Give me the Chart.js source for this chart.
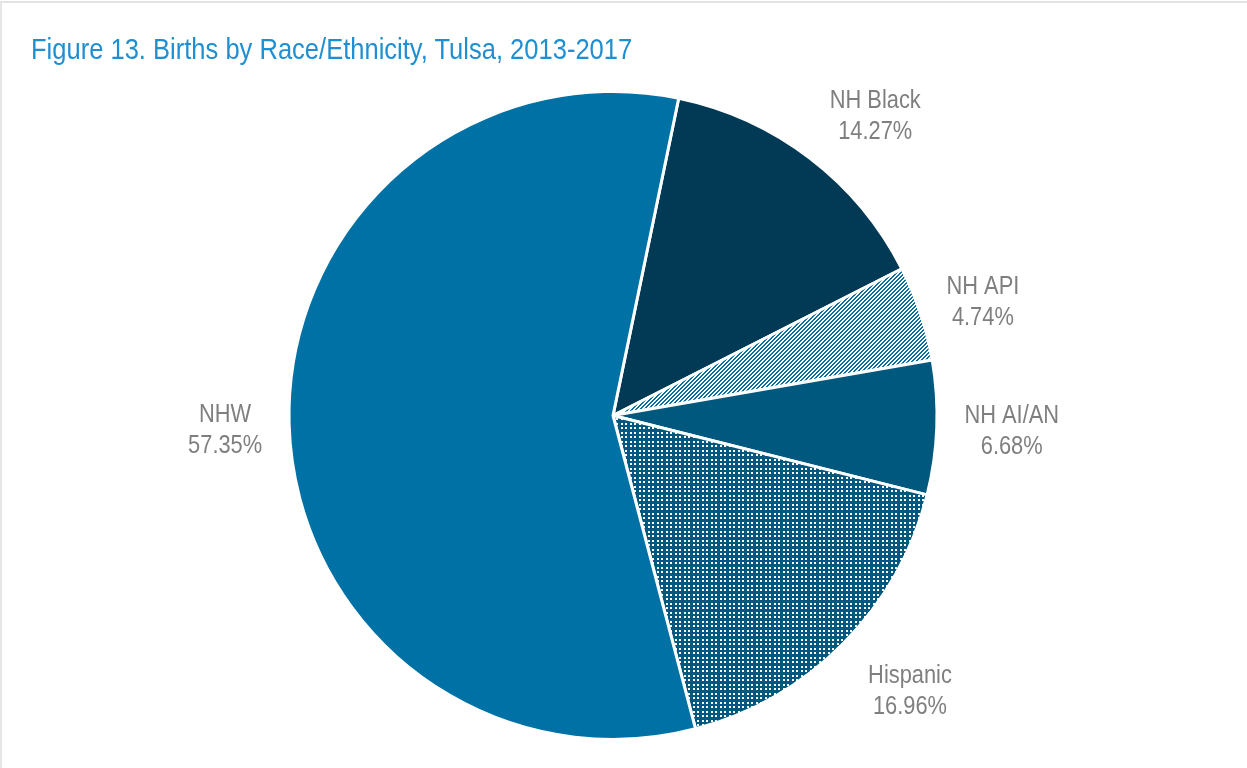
<!DOCTYPE html>
<html>
<head>
<meta charset="utf-8">
<script src="https://cdn.jsdelivr.net/npm/chart.js@4.4.0/dist/chart.umd.min.js"></script>
<style>
  html, body { margin: 0; padding: 0; background: #fff; }
  #wrap { position: absolute; left: 0; top: 1px; width: 1245px; height: 765px;
          border-top: 2px solid #e3e3e3; border-left: 2px solid #e6e6e6; }
  #title { position: absolute; left: 31px; top: 32px; font-family: "Liberation Sans", Arial, sans-serif;
           font-size: 30px; color: #1f8fd2; white-space: nowrap; z-index: 2;
           transform: scaleX(0.851); transform-origin: 0 0; }
  canvas { position: absolute; left: 0; top: 0; }
</style>
</head>
<body>
<div id="wrap"></div>
<div id="title">Figure 13. Births by Race/Ethnicity, Tulsa, 2013-2017</div>
<canvas id="c" width="1247" height="768"></canvas>
<script>
const categories = ["NH Black", "NH API", "NH AI/AN", "Hispanic", "NHW"];
const shares = [14.27, 4.74, 6.68, 16.96, 57.35];
const shareLabels = ["14.27%", "4.74%", "6.68%", "16.96%", "57.35%"];

function stripePattern() {
  const t = document.createElement('canvas'); t.width = 4; t.height = 4;
  const g = t.getContext('2d');
  const img = g.createImageData(4, 4);
  for (let y = 0; y < 4; y++) for (let x = 0; x < 4; x++) {
    const i = (y * 4 + x) * 4;
    const blue = ((x + y) % 4) < 2;
    img.data[i] = blue ? 8 : 255; img.data[i+1] = blue ? 110 : 255; img.data[i+2] = blue ? 160 : 255; img.data[i+3] = 255;
  }
  g.putImageData(img, 0, 0);
  return g.createPattern(t, 'repeat');
}
function dotPattern() {
  const t = document.createElement('canvas'); t.width = 9; t.height = 9;
  const g = t.getContext('2d');
  g.fillStyle = '#00587e'; g.fillRect(0, 0, 9, 9);
  g.fillStyle = '#ffffff';
  [[0,0],[4,0],[0,4],[4,4]].forEach(([x,y]) => g.fillRect(x, y, 2, 2));
  return g.createPattern(t, 'repeat');
}

const ctx = document.getElementById('c').getContext('2d');
const colors = ['#023a55', stripePattern(), '#00587e', dotPattern(), '#0071a5'];

const labelPlugin = {
  id: 'outLabels',
  afterDatasetsDraw(chart, args, opts) {
    const meta = chart.getDatasetMeta(0);
    const c = chart.ctx;
    c.save();
    c.font = '26px "Liberation Sans", Arial, sans-serif';
    c.fillStyle = '#7f7f7f';
    c.textAlign = 'center';
    c.textBaseline = 'alphabetic';
    const drawScaled = (txt, x, y) => {
      c.save(); c.translate(x, y); c.scale(opts.squeeze, 1); c.fillText(txt, 0, 0); c.restore();
    };
    meta.data.forEach((arc, i) => {
      const p = arc.getProps(['x','y','startAngle','endAngle','outerRadius'], true);
      const mid = (p.startAngle + p.endAngle) / 2;
      const r = p.outerRadius + opts.gap;
      const n = opts.nudge[i] || [0, 0];
      const lx = p.x + Math.cos(mid) * r + n[0];
      const ly = p.y + Math.sin(mid) * r + n[1];
      drawScaled(categories[i], lx, ly - 6);
      drawScaled(shareLabels[i], lx, ly + 25);
    });
    c.restore();
  }
};

new Chart(ctx, {
  type: 'pie',
  data: {
    labels: categories,
    datasets: [{
      data: shares,
      backgroundColor: colors,
      borderColor: '#ffffff',
      borderWidth: 3,
      hoverOffset: 0
    }]
  },
  options: {
    responsive: false,
    animation: false,
    rotation: 11.7,
    layout: { padding: { top: 90, bottom: 27, left: 200, right: 221 } },
    plugins: {
      legend: { display: false }, tooltip: { enabled: false }, title: { display: false },
      outLabels: { gap: 70, squeeze: 0.84, nudge: [[23, 12], [-4, 9], [5, -1], [17, -4], [6, 2]] }
    },
    events: []
  },
  plugins: [labelPlugin]
});
</script>
</body>
</html>
